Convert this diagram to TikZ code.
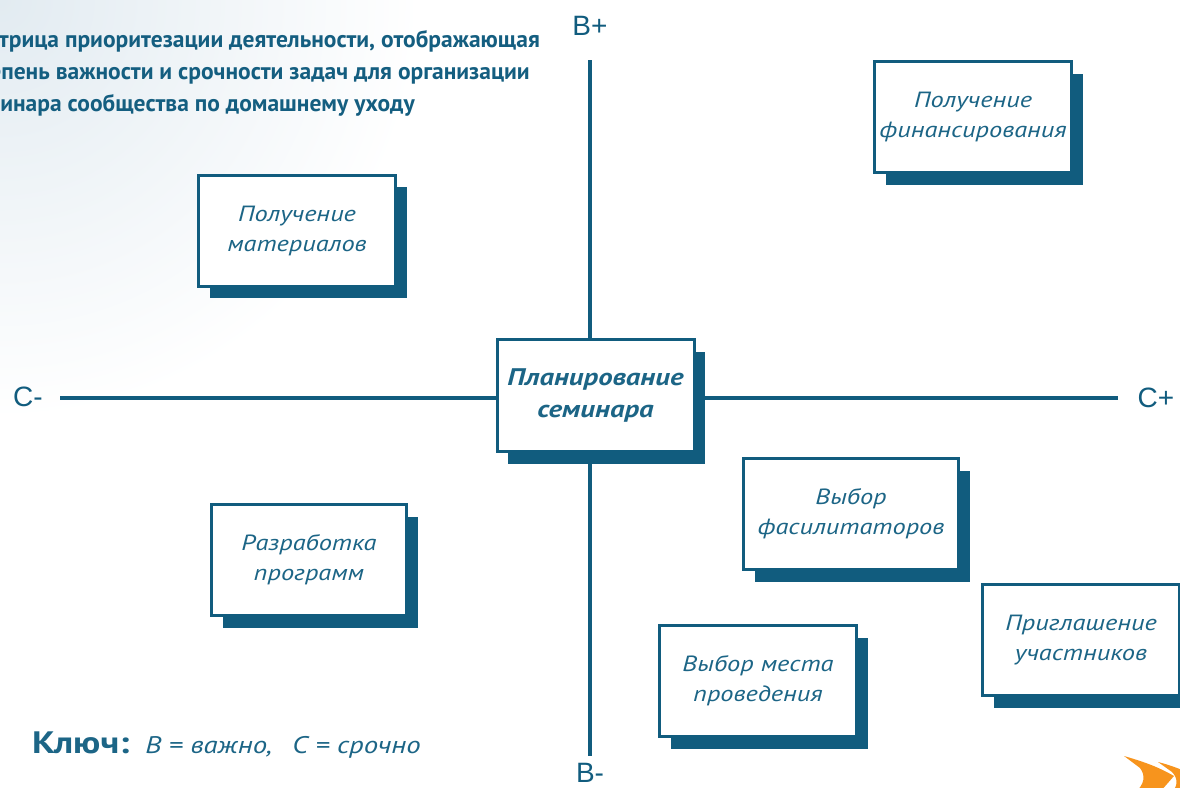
\documentclass[tikz,border=0pt]{standalone}
\usepackage{fontspec}
\setmainfont{PT Sans}
\newfontfamily\axisfont{Liberation Sans}
\newfontfamily\handfont[FakeStretch=1.2]{PT Sans}
\newfontfamily\titlefont{PT Sans}
\usetikzlibrary{shadows}
\definecolor{ink}{HTML}{115C7E}
\definecolor{inktext}{HTML}{1C6586}
\definecolor{titleblue}{HTML}{145E80}
\definecolor{haze}{HTML}{E2EBF1}
\definecolor{arroworange}{HTML}{F7941D}
\begin{document}
\begin{tikzpicture}[x=1pt,y=-1pt,
  axis/.style={draw=ink, line width=4pt},
  axislabel/.style={text=ink, font=\axisfont\fontsize{28}{30}\selectfont, inner sep=0pt},
  task/.style={draw=ink, line width=3pt, fill=white, align=center, text=inktext,
    font=\handfont\itshape\fontsize{22}{30}\selectfont,
    minimum width=#1, minimum height=111pt, inner sep=0pt,
    drop shadow={shadow xshift=11pt, shadow yshift=-12pt, fill=ink, opacity=1}},
  task/.default=197pt,
  titleline/.style={anchor=base east, inner sep=0pt, text=titleblue,
    font=\titlefont\bfseries\fontsize{23.5}{27}\selectfont},
  arrowpart/.style={fill=arroworange, draw=none}]

\useasboundingbox (0,0) rectangle (1180,787);
\clip (0,0) rectangle (1180,787);

% soft tint in the upper left corner
\shade[inner color=haze, outer color=white] (-420,-420) rectangle (420,420);

% title, running off the left edge
\node[titleline] (t1) at (540,47) {Матрица приоритезации деятельности, отображающая};
\node[titleline] (t2) at (530,79) {степень важности и срочности задач для организации};
\node[titleline] (t3) at (415,111) {семинара сообщества по домашнему уходу};

% axis labels
\node[axislabel] (bp) at (590,26) {В+};
\node[axislabel] (bm) at (590,773) {В-};
\node[axislabel] (cm) at (28,397) {С-};
\node[axislabel] (cp) at (1156,398) {С+};

% axis ends
\coordinate (vtop) at (590,60);
\coordinate (vbot) at (590,756);
\coordinate (hleft) at (60,398);
\coordinate (hright) at (1118,398);
\draw[axis] (vtop) -- (vbot);
\draw[axis] (hleft) -- (hright);

% centre of the matrix
\node[task, minimum height=112pt, font=\handfont\bfseries\itshape\fontsize{24}{32}\selectfont]
  (plan) at (595.5,395.5) {Планирование\\семинара};

% tasks in the four quadrants
\node[task] (mat) at (297,230.5) {Получение\\материалов};
\node[task] (fin) at (973,117) {Получение\\финансирования};
\node[task, minimum width=195pt] (prog) at (309,560) {Разработка\\программ};
\node[task, minimum width=215pt] (fac) at (851,514) {Выбор\\фасилитаторов};
\node[task] (place) at (758,681) {Выбор места\\проведения};
\node[task] (inv) at (1081,640) {Приглашение\\участников};

% key
\node[anchor=base west, inner sep=0pt, text=inktext] (key) at (32,753)
  {{\handfont\bfseries\fontsize{31}{34}\selectfont Ключ:}\hspace{16pt}{\handfont\itshape\fontsize{24}{28}\selectfont В = важно,\hspace{20pt}С = срочно}};

% orange chevrons in the corner
\fill[arrowpart] (1124,756) .. controls (1148,763) and (1160,768) .. (1174,776)
  -- (1160,792) -- (1136,792) .. controls (1144,784) and (1146,776) .. (1140,768) -- cycle;
\fill[arrowpart] (1158,762) .. controls (1170,765) and (1180,769) .. (1192,774)
  -- (1192,792) -- (1172,792) .. controls (1178,786) and (1178,778) .. (1172,772) -- cycle;
\end{tikzpicture}
\end{document}
